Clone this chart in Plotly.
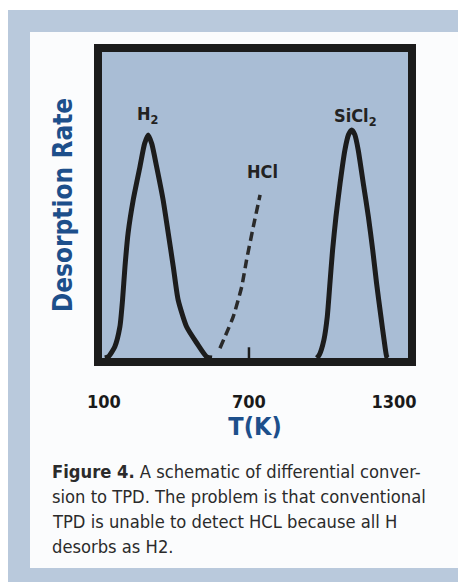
import plotly.graph_objects as go

# ---- data (read from the schematic) ----
h2_T = [104, 118, 145, 166, 177, 187, 200, 221, 249, 268, 283, 298, 318, 345, 366, 387, 407, 442, 484, 525, 547]
h2_rate = [0.0, 0.004, 0.037, 0.102, 0.19, 0.298, 0.408, 0.516, 0.625, 0.70, 0.729, 0.70, 0.625, 0.516, 0.408, 0.298, 0.19, 0.102, 0.049, 0.004, 0.0]

sicl2_T = [981, 991, 1010, 1024, 1035, 1046, 1060, 1077, 1097, 1112, 1125, 1138, 1152, 1173, 1194, 1212, 1228, 1246, 1259, 1270, 1275]
sicl2_rate = [0.0, 0.01, 0.059, 0.135, 0.244, 0.353, 0.462, 0.571, 0.68, 0.73, 0.745, 0.73, 0.68, 0.571, 0.462, 0.353, 0.244, 0.135, 0.059, 0.004, 0.0]

hcl_T = [580, 635, 670, 690, 718, 746]
hcl_rate = [0.032, 0.135, 0.233, 0.32, 0.429, 0.533]

tick_vals = [100, 700, 1300]
tick_text = ["100", "700", "1300"]

labels = [("H<sub>2</sub>", 282, 0.794), ("HCl", 754, 0.608), ("SiCl<sub>2</sub>", 1139, 0.788)]

caption_lines = ["<b>Figure 4.</b> A schematic of differential conver-",
                 "sion to TPD. The problem is that conventional",
                 "TPD is unable to detect HCL because all H",
                 "desorbs as H2."]

NARROW = "Liberation Sans Narrow, DejaVu Sans Condensed, Arial Narrow, sans-serif"
INK = "#1c1c1c"
BLUE = "#1d4f8b"

fig = go.Figure()
fig.add_trace(go.Scatter(x=h2_T, y=h2_rate, mode="lines",
                         line=dict(color=INK, width=5, shape="spline", smoothing=0.6)))
fig.add_trace(go.Scatter(x=sicl2_T, y=sicl2_rate, mode="lines",
                         line=dict(color=INK, width=5, shape="spline", smoothing=0.6)))
fig.add_trace(go.Scatter(x=hcl_T, y=hcl_rate, mode="lines",
                         line=dict(color="#2a2a2a", width=3.5, dash="9px,5px", shape="spline", smoothing=0.5)))

for txt, x, y in labels:
    fig.add_annotation(x=x, y=y, text=f"<b>{txt}</b>", showarrow=False,
                       font=dict(family=NARROW, size=18, color="#222222"))

# small inside tick at 700
fig.add_shape(type="line", x0=700, x1=700, y0=0, y1=0.035, xref="x", yref="y",
              line=dict(color=INK, width=2.5))

# page geometry (reference pixel coords); the browser body adds an 8px offset
OFF = 8
W, H = 466 - OFF, 582 - OFF
L, R, T, B = 102, 408, 52, 358   # plot interior in reference pixels
S = R - L

def px(x):
    return (x - L) / S

def py(y):
    return (B - y) / (B - T)

fig.add_shape(type="rect", xref="paper", yref="paper", x0=px(8), x1=px(480), y0=py(600), y1=py(10),
              fillcolor="#b9c9dc", line=dict(width=0), layer="below")
fig.add_shape(type="rect", xref="paper", yref="paper", x0=px(30), x1=px(458), y0=py(568), y1=py(32),
              fillcolor="#fbfcfd", line=dict(width=0), layer="below")
fig.add_shape(type="rect", xref="paper", yref="paper", x0=0, x1=1, y0=0, y1=1,
              fillcolor="#a9bdd5", line=dict(width=0), layer="below")

for i, line in enumerate(caption_lines):
    fig.add_annotation(xref="paper", yref="paper", x=px(50), y=py(471 + 25 * i),
                       xanchor="left", yanchor="middle", align="left", showarrow=False,
                       text=line, font=dict(family=NARROW, size=18.2, color="#2b2b2b"))

fig.update_layout(
    width=W, height=H, autosize=False,
    margin=dict(l=L - OFF, r=466 - R, t=T - OFF, b=582 - B, pad=0),
    paper_bgcolor="white", plot_bgcolor="#a9bdd5",
    showlegend=False,
    xaxis=dict(range=[92, 1358], showgrid=False, zeroline=False,
               showline=True, mirror=True, linewidth=8, linecolor=INK,
               tickvals=tick_vals, ticktext=tick_text, ticks="",
               ticklabelstandoff=20,
               tickfont=dict(family=NARROW, size=18, color="#1a1a1a", weight="bold"),
               title=dict(text="<b>T(K)</b>", standoff=8,
                          font=dict(family=NARROW, size=25, color=BLUE)),
               automargin=False),
    yaxis=dict(range=[0, 1], showgrid=False, zeroline=False,
               showline=True, mirror=True, linewidth=8, linecolor=INK,
               showticklabels=False, ticks="",
               title=dict(text="<b>Desorption Rate</b>", standoff=17,
                          font=dict(family=NARROW, size=26, color=BLUE)),
               automargin=False),
)

fig.write_html("out.html")
